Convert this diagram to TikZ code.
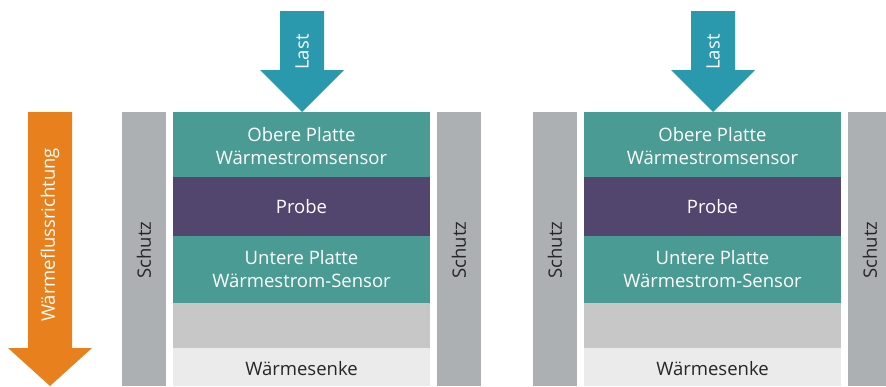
\documentclass[tikz,border=0pt]{standalone}
\usepackage{fontspec}
\setmainfont{Open Sans}
\definecolor{orangeA}{HTML}{E8801E}
\definecolor{tealA}{HTML}{2A98AD}
\definecolor{plate}{HTML}{4A9B93}
\definecolor{probe}{HTML}{52456E}
\definecolor{schutz}{HTML}{ADB0B2}
\definecolor{midgray}{HTML}{C6C7C6}
\definecolor{sink}{HTML}{EBEBEB}
\begin{document}
\begin{tikzpicture}[x=1pt,y=-1pt,
  wtxt/.style={text=white,font=\fontsize{18.5}{23}\selectfont,align=center,inner sep=0pt},
  btxt/.style={text=black!85,font=\fontsize{18.5}{23}\selectfont,align=center,inner sep=0pt},
  rtxt/.style={rotate=90,font=\fontsize{18.5}{22}\selectfont,inner sep=0pt}]
\useasboundingbox (0,0) rectangle (886,386);
% heat flow arrow
\fill[orangeA] (28,112) -- (72,112) -- (72,348) -- (92,348) -- (50,386) -- (8,348) -- (28,348) -- cycle;
\node[rtxt,text=white] (wf) at (50,235) {Wärmeflussrichtung};
% diagrams
\foreach \dx/\n in {0/a,411/b}{
  \begin{scope}[xshift=\dx]
  \fill[tealA] (280,11) -- (324,11) -- (324,70) -- (344,70) -- (302,112) -- (260,70) -- (280,70) -- cycle;
  \node[rtxt,text=white] (last\n) at (302,52) {Last};
  \fill[schutz] (122,112) rectangle (166,386);
  \fill[schutz] (437,112) rectangle (481,386);
  \node[rtxt,text=black!85] (sl\n) at (144,250) {Schutz};
  \node[rtxt,text=black!85] (sr\n) at (459,250) {Schutz};
  \fill[plate] (173,112) rectangle (430,177);
  \fill[probe] (173,177) rectangle (430,236);
  \fill[plate] (173,236) rectangle (430,303);
  \fill[midgray] (173,303) rectangle (430,348);
  \fill[sink] (173,348) rectangle (430,386);
  \node[wtxt] (op\n) at (301.5,146) {Obere Platte\\Wärmestromsensor};
  \node[wtxt] (pr\n) at (301.5,207) {Probe};
  \node[wtxt] (up\n) at (301.5,269) {Untere Platte\\Wärmestrom-Sensor};
  \node[btxt] (ws\n) at (301.5,369) {Wärmesenke};
  \end{scope}
}
\end{tikzpicture}
\end{document}
